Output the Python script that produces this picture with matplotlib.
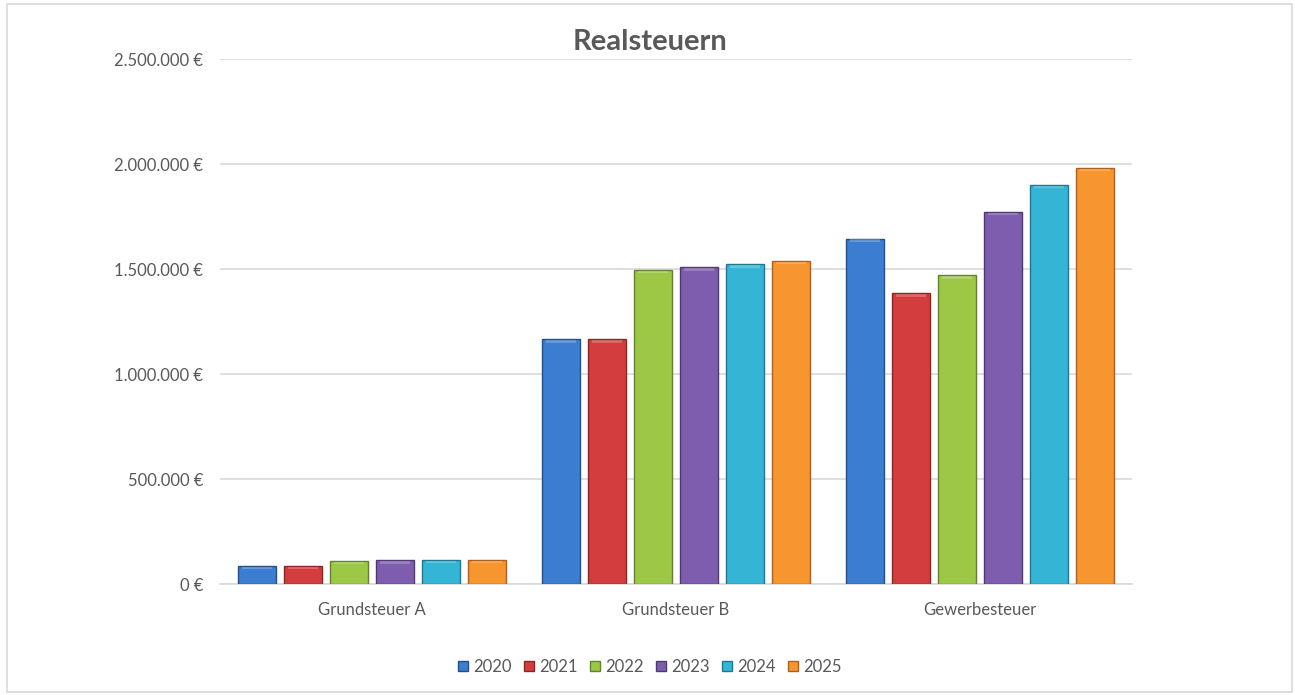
import numpy as np
import matplotlib
matplotlib.use("Agg")
import matplotlib.pyplot as plt
from matplotlib.patches import Rectangle
from matplotlib.ticker import FuncFormatter

plt.rcParams['font.family'] = ['Lato', 'DejaVu Sans']

# data
categories = ["Grundsteuer A", "Grundsteuer B", "Gewerbesteuer"]
years = ["2020", "2021", "2022", "2023", "2024", "2025"]
v2020 = [87000, 1167000, 1646000]
v2021 = [87000, 1167000, 1386000]
v2022 = [111000, 1497000, 1471000]
v2023 = [114000, 1510000, 1773000]
v2024 = [116000, 1524000, 1903000]
v2025 = [116000, 1540000, 1982000]
series = [v2020, v2021, v2022, v2023, v2024, v2025]
colors = ["#3B7DD0", "#D43D3D", "#9CC846", "#7E5CAE", "#35B5D6", "#F7952E"]
edges = ["#24508A", "#8E2424", "#61842A", "#4F3973", "#1F7890", "#B0601A"]

grey = "#595959"

fig = plt.figure(figsize=(12.95, 6.95), dpi=100)
ax = fig.add_axes([220 / 1295, 110.7 / 695, 911.7 / 1295, 525 / 695])

x = np.arange(len(categories))
pitch = 0.1514
width = 0.125
for i, (vals, c, e) in enumerate(zip(series, colors, edges)):
    pos = x + (i - 2.5) * pitch
    ax.bar(pos, vals, width, color=c, edgecolor=e, linewidth=1.0,
           label=years[i], zorder=3)
    # light bevel on top of each bar
    ax.bar(pos, [12000] * len(vals), width * 0.8, bottom=np.array(vals) - 16000,
           color="white", alpha=0.22, linewidth=0, zorder=4)

ax.set_xlim(-0.5, 2.5)
ax.set_ylim(0, 2500000)
ax.set_yticks(np.arange(0, 2500001, 500000))
ax.yaxis.set_major_formatter(FuncFormatter(
    lambda v, p: "{:,.0f} €".format(v).replace(",", ".")))
ax.set_xticks(x)
ax.set_xticklabels(categories)
ax.tick_params(axis="both", length=0, colors=grey, labelsize=12)
ax.tick_params(axis="x", pad=13)
ax.tick_params(axis="y", pad=12)
ax.grid(axis="y", color="#D9D9D9", linewidth=1.2, zorder=0)
for s in ["top", "right", "left"]:
    ax.spines[s].set_visible(False)
ax.spines["bottom"].set_color("#D9D9D9")
ax.spines["bottom"].set_linewidth(1.2)

fig.text(0.502, 1 - 42 / 695, "Realsteuern", ha="center", va="center",
         fontsize=21, fontweight="bold", color=grey)

fig.legend(loc="center", bbox_to_anchor=(0.502, 1 - 667 / 695), ncol=6,
           frameon=False, fontsize=12, labelcolor=grey, handlelength=0.6,
           handleheight=0.6, handletextpad=0.3, columnspacing=0.75)

fig.patches.append(Rectangle((7 / 1295, 3 / 695), 1285 / 1295, 688 / 695,
                             transform=fig.transFigure, fill=False,
                             edgecolor="#D9D9D9", linewidth=1.2))

fig.savefig("out.png", dpi=100)
